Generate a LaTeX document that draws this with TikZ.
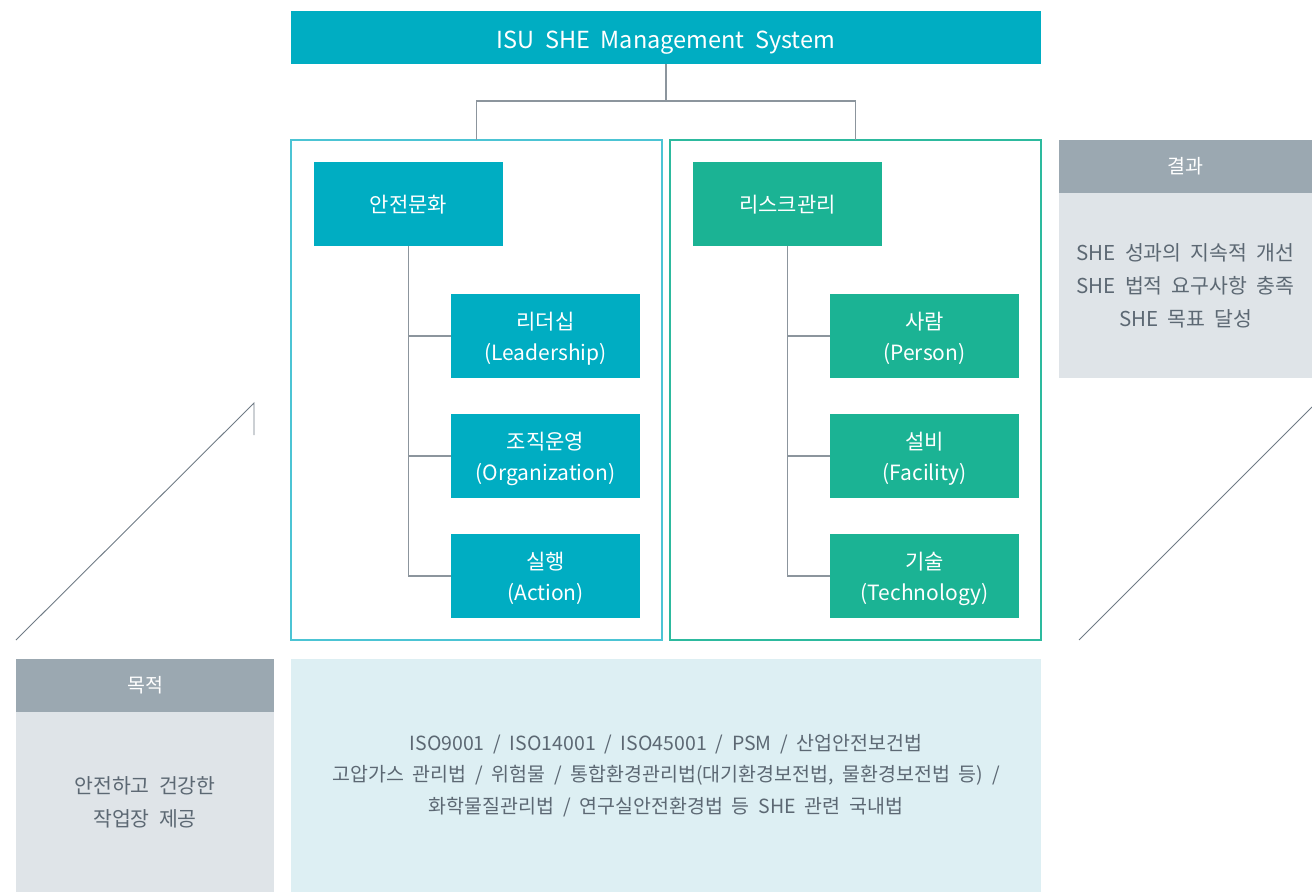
\documentclass[tikz,border=0pt]{standalone}
\usepackage{fontspec}
\setmainfont{Noto Sans CJK KR}[WordSpace=2]
\definecolor{cyanbox}{HTML}{00ADC2}
\definecolor{greenbox}{HTML}{1BB394}
\definecolor{cyanframe}{HTML}{4CC4D4}
\definecolor{greenframe}{HTML}{2DBA9E}
\definecolor{hdrgray}{HTML}{9BA8B1}
\definecolor{bodygray}{HTML}{DFE4E8}
\definecolor{lawbg}{HTML}{DDEFF3}
\definecolor{linegray}{HTML}{8C959D}
\definecolor{diaggray}{HTML}{6F7B85}
\definecolor{txtgray}{HTML}{5C6873}
\begin{document}
\begin{tikzpicture}[x=1pt,y=-1pt,
  base/.style={anchor=north west, inner sep=0pt, outer sep=0pt, align=center},
  cbox/.style={base, fill=cyanbox, text=white, minimum width=189pt, minimum height=84pt, text depth=0pt, font=\fontsize{21}{31}\selectfont},
  gbox/.style={base, fill=greenbox, text=white, minimum width=189pt, minimum height=84pt, text depth=0pt, font=\fontsize{21}{31}\selectfont},
  hdr/.style={base, fill=hdrgray, text=white, minimum height=53pt, font=\fontsize{19.5}{30}\selectfont},
  panel/.style={base, fill=bodygray, text=txtgray, font=\fontsize{20.5}{33}\selectfont},
  conn/.style={draw=linegray, line width=1.1pt},
  diag/.style={draw=diaggray, line width=0.9pt}
]
\useasboundingbox (0,0) rectangle (1312,892);

% title
\node[base, fill=cyanbox, text=white, minimum width=750pt, minimum height=53pt, text height=21pt, text depth=0pt, font=\fontsize{23.5}{26}\selectfont] (title) at (291,11) {ISU SHE Management System};

% frames
\node[base, draw=cyanframe, line width=1.4pt, minimum width=371pt, minimum height=500pt] (frameL) at (291,140) {};
\node[base, draw=greenframe, line width=1.4pt, minimum width=371pt, minimum height=500pt] (frameR) at (670,140) {};

% connector from title
\coordinate (j) at (666,101);
\draw[conn] (title.south) -- (j);
\draw[conn] (j) -| (frameL.north);
\draw[conn] (j) -| (frameR.north);

% left tree
\node[cbox] (safe) at (314,162) {안전문화};
\node[cbox] (lead) at (451,294) {리더십\\(Leadership)};
\node[cbox] (org)  at (451,414) {조직운영\\(Organization)};
\node[cbox] (act)  at (451,534) {실행\\(Action)};
\draw[conn] (safe.south) |- (lead.west);
\draw[conn] (safe.south) |- (org.west);
\draw[conn] (safe.south) |- (act.west);

% right tree
\node[gbox] (risk) at (693,162) {리스크관리};
\node[gbox] (pers) at (830,294) {사람\\(Person)};
\node[gbox] (fac)  at (830,414) {설비\\(Facility)};
\node[gbox] (tech) at (830,534) {기술\\(Technology)};
\draw[conn] (risk.south) |- (pers.west);
\draw[conn] (risk.south) |- (fac.west);
\draw[conn] (risk.south) |- (tech.west);

% result panel
\node[hdr, minimum width=253pt] (reshdr) at (1059,140) {결과};
\node[panel, minimum width=253pt, minimum height=185pt] (resbody) at (1059,193) {SHE 성과의 지속적 개선\\SHE 법적 요구사항 충족\\SHE 목표 달성};

% purpose panel
\node[hdr, minimum width=258pt] (purhdr) at (16,659) {목적};
\node[panel, minimum width=258pt, minimum height=180pt] (purbody) at (16,712) {안전하고 건강한\\작업장 제공};

% laws panel
\node[base, fill=lawbg, text=txtgray, minimum width=750pt, minimum height=233pt, font=\fontsize{19.5}{31.5}\selectfont] (laws) at (291,659) {ISO9001 / ISO14001 / ISO45001 / PSM / 산업안전보건법\\고압가스 관리법 / 위험물 / 통합환경관리법(대기환경보전법, 물환경보전법 등) /\\화학물질관리법 / 연구실안전환경법 등 SHE 관련 국내법};

% diagonal lines
\coordinate (dl1) at (16,640);
\coordinate (dl2) at (254,403);
\coordinate (dl3) at (254,435);
\draw[diag] (dl1) -- (dl2) -- (dl3);
\coordinate (dr1) at (1079,640);
\coordinate (dr2) at (1312,407);
\draw[diag] (dr1) -- (dr2);
\end{tikzpicture}
\end{document}
